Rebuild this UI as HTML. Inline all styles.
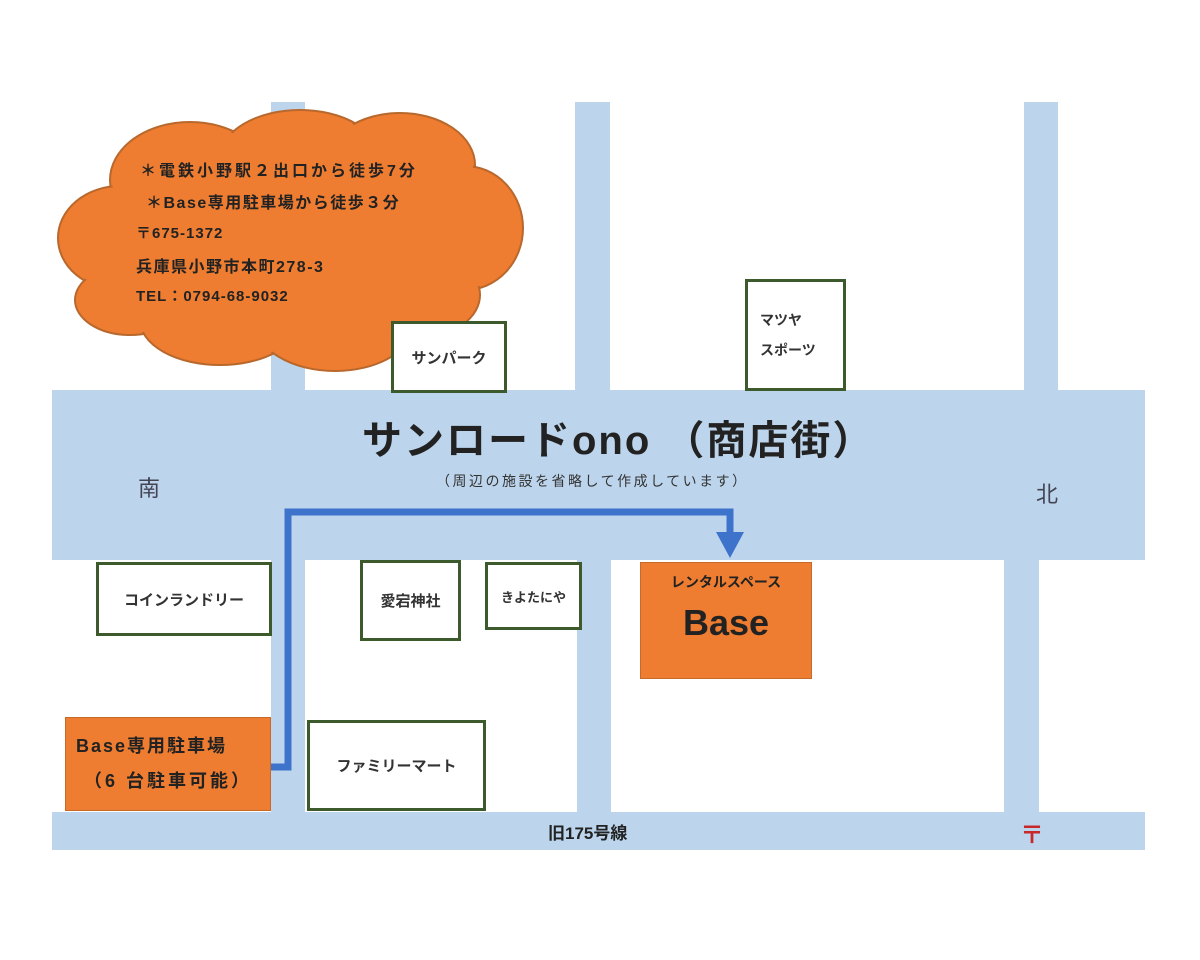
<!DOCTYPE html>
<html><head><meta charset="utf-8"><style>
body{margin:0;width:1200px;height:960px;background:#fff;position:relative;overflow:hidden;font-family:"Liberation Sans","Noto Sans CJK JP",sans-serif;font-weight:bold;color:#222}
.r{position:absolute;background:#bcd5ec}
.b{position:absolute;box-sizing:border-box;border:3px solid #3d5a2c;background:#fff;display:flex;align-items:center;justify-content:center;font-size:15px;color:#333}
.o{position:absolute;box-sizing:border-box;background:#ee7d31;border:1px solid #c56a2a}
.t{position:absolute;white-space:nowrap}
</style></head><body>
<div class="r" style="left:271px;top:102px;width:34px;height:300px"></div>
<div class="r" style="left:575px;top:102px;width:35px;height:300px"></div>
<div class="r" style="left:1024px;top:102px;width:34px;height:300px"></div>
<div class="r" style="left:271px;top:550px;width:34px;height:270px"></div>
<div class="r" style="left:577px;top:550px;width:34px;height:270px"></div>
<div class="r" style="left:1004px;top:550px;width:35px;height:270px"></div>
<div class="r" style="left:52px;top:390px;width:1093px;height:170px"></div>
<div class="r" style="left:52px;top:812px;width:1093px;height:38px"></div>

<svg style="position:absolute;left:0;top:0" width="1200" height="960">
<g fill="#ee7d31" stroke="#b8682c" stroke-width="2">
<ellipse cx="190" cy="180" rx="80" ry="58"/>
<ellipse cx="300" cy="158" rx="80" ry="48"/>
<ellipse cx="400" cy="165" rx="75" ry="52"/>
<ellipse cx="465" cy="228" rx="58" ry="62"/>
<ellipse cx="120" cy="238" rx="62" ry="52"/>
<ellipse cx="130" cy="300" rx="55" ry="35"/>
<ellipse cx="220" cy="320" rx="80" ry="45"/>
<ellipse cx="335" cy="322" rx="80" ry="49"/>
<ellipse cx="420" cy="295" rx="60" ry="42"/>
</g>
<g fill="#ee7d31">
<ellipse cx="190" cy="180" rx="78" ry="56"/>
<ellipse cx="300" cy="158" rx="78" ry="46"/>
<ellipse cx="400" cy="165" rx="73" ry="50"/>
<ellipse cx="465" cy="228" rx="56" ry="60"/>
<ellipse cx="120" cy="238" rx="60" ry="50"/>
<ellipse cx="130" cy="300" rx="53" ry="33"/>
<ellipse cx="220" cy="320" rx="78" ry="43"/>
<ellipse cx="335" cy="322" rx="78" ry="47"/>
<ellipse cx="420" cy="295" rx="58" ry="40"/>
<rect x="150" y="180" width="300" height="130"/>
</g>
<polyline points="270,767 288,767 288,512 730,512 730,535" fill="none" stroke="#3e73cc" stroke-width="7"/>
<polygon points="716,532 744,532 730,558" fill="#3e73cc"/>
</svg>

<div class="t" style="left:140px;top:157px;font-size:16px;letter-spacing:3px">＊電鉄小野駅２出口から徒歩7分</div>
<div class="t" style="left:146px;top:189px;font-size:16px;letter-spacing:1.5px">＊Base専用駐車場から徒歩３分</div>
<div class="t" style="left:136px;top:222px;font-size:15px;letter-spacing:1px">〒675-1372</div>
<div class="t" style="left:136px;top:253px;font-size:16px;letter-spacing:1.5px">兵庫県小野市本町278-3</div>
<div class="t" style="left:136px;top:285px;font-size:15px;letter-spacing:1px">TEL：0794-68-9032</div>

<div class="b" style="left:391px;top:321px;width:116px;height:72px">サンパーク</div>
<div class="b" style="left:745px;top:279px;width:101px;height:112px;justify-content:flex-start;padding-left:12px;line-height:30px;font-size:14px">マツヤ<br>スポーツ</div>
<div class="b" style="left:96px;top:562px;width:176px;height:74px">コインランドリー</div>
<div class="b" style="left:360px;top:560px;width:101px;height:81px">愛宕神社</div>
<div class="b" style="left:485px;top:562px;width:97px;height:68px;font-size:13px">きよたにや</div>
<div class="b" style="left:307px;top:720px;width:179px;height:91px">ファミリーマート</div>

<div class="o" style="left:640px;top:562px;width:172px;height:117px"></div>
<div class="t" style="left:640px;top:572px;width:172px;text-align:center;font-size:14px">レンタルスペース</div>
<div class="t" style="left:640px;top:602px;width:172px;text-align:center;font-size:36px">Base</div>
<div class="o" style="left:65px;top:717px;width:206px;height:94px"></div>
<div class="t" style="left:76px;top:732px;font-size:18px;letter-spacing:2px">Base専用駐車場</div>
<div class="t" style="left:84px;top:767px;font-size:18px;letter-spacing:3px">（6 台駐車可能）</div>

<div class="t" style="left:362px;top:408px;font-size:40px;letter-spacing:2px">サンロードono （商店街）</div>
<div class="t" style="left:436px;top:471px;font-size:14px;letter-spacing:2.5px;font-weight:normal;color:#333">（周辺の施設を省略して作成しています）</div>
<div class="t" style="left:138px;top:471px;font-size:22px;font-weight:normal;color:#445">南</div>
<div class="t" style="left:1036px;top:477px;font-size:22px;font-weight:normal;color:#445">北</div>
<div class="t" style="left:548px;top:819px;font-size:17px">旧175号線</div>
<div class="t" style="left:1020px;top:815px;font-size:24px;color:#c8282a">〒</div>
</body></html>
